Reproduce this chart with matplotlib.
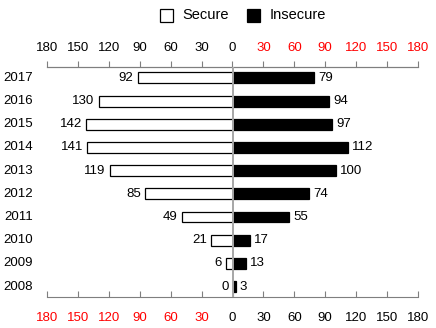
import matplotlib

matplotlib.use("Agg")
import matplotlib.pyplot as plt
import numpy as np

years = ["2017", "2016", "2015", "2014", "2013", "2012", "2011", "2010", "2009", "2008"]
secure = [92, 130, 142, 141, 119, 85, 49, 21, 6, 0]
insecure = [79, 94, 97, 112, 100, 74, 55, 17, 13, 3]
ticks = [-180, -150, -120, -90, -60, -30, 0, 30, 60, 90, 120, 150, 180]

plt.rcParams["font.family"] = ["Liberation Sans", "DejaVu Sans"]
FS = 9.5
AXIS_GRAY = "#7f7f7f"


def main() -> None:
    fig = plt.figure(figsize=(4.36, 3.28), dpi=100)
    ax = fig.add_axes([47 / 436, 1 - 297 / 328, 371 / 436, 230 / 328])

    y = np.arange(len(years))[::-1]
    ax.barh(y, [-v for v in secure], height=0.47, color="white", edgecolor="black", linewidth=0.9)
    ax.barh(y, insecure, height=0.47, color="black", edgecolor="black", linewidth=0.9)
    ax.axvline(0, color="#a6a6a6", linewidth=1.4, zorder=3)

    for yi, s, ins in zip(y, secure, insecure):
        ax.text(-s - 4, yi, str(s), ha="right", va="center", fontsize=FS)
        ax.text(ins + 4, yi, str(ins), ha="left", va="center", fontsize=FS)

    for yi, year in zip(y, years):
        ax.text(-194, yi, year, ha="right", va="center", fontsize=FS, clip_on=False)

    ax.set_xlim(-180, 180)
    ax.set_ylim(-0.45, 9.47)
    ax.set_yticks([])
    for side in ("left", "right"):
        ax.spines[side].set_visible(False)
    for side in ("top", "bottom"):
        ax.spines[side].set_color(AXIS_GRAY)

    labels = [str(abs(t)) for t in ticks]
    ax.set_xticks(ticks)
    ax.set_xticklabels(labels, fontsize=FS)
    ax.tick_params(axis="x", direction="in", length=4, color=AXIS_GRAY, pad=11)
    for t, lab in zip(ticks, ax.get_xticklabels()):
        lab.set_color("red" if t < 0 else "black")

    top = ax.secondary_xaxis("top")
    top.set_xticks(ticks)
    top.set_xticklabels(labels, fontsize=FS)
    top.tick_params(axis="x", direction="out", length=4, color=AXIS_GRAY, pad=5)
    top.spines["top"].set_color(AXIS_GRAY)
    for t, lab in zip(ticks, top.get_xticklabels()):
        lab.set_color("red" if t > 0 else "black")

    # legend drawn by hand at the top
    fig.patches.append(plt.Rectangle((160 / 436, 1 - 22 / 328), 13 / 436, 13 / 328,
                                     transform=fig.transFigure, facecolor="white",
                                     edgecolor="black", linewidth=0.9))
    fig.text(182 / 436, 1 - 15 / 328, "Secure", fontsize=10.5, va="center")
    fig.patches.append(plt.Rectangle((247 / 436, 1 - 22 / 328), 13 / 436, 13 / 328,
                                     transform=fig.transFigure, facecolor="black",
                                     edgecolor="black", linewidth=0.9))
    fig.text(270 / 436, 1 - 15 / 328, "Insecure", fontsize=10.5, va="center")

    fig.savefig("out.png", dpi=100)
    plt.close(fig)


if __name__ == "__main__":
    main()
